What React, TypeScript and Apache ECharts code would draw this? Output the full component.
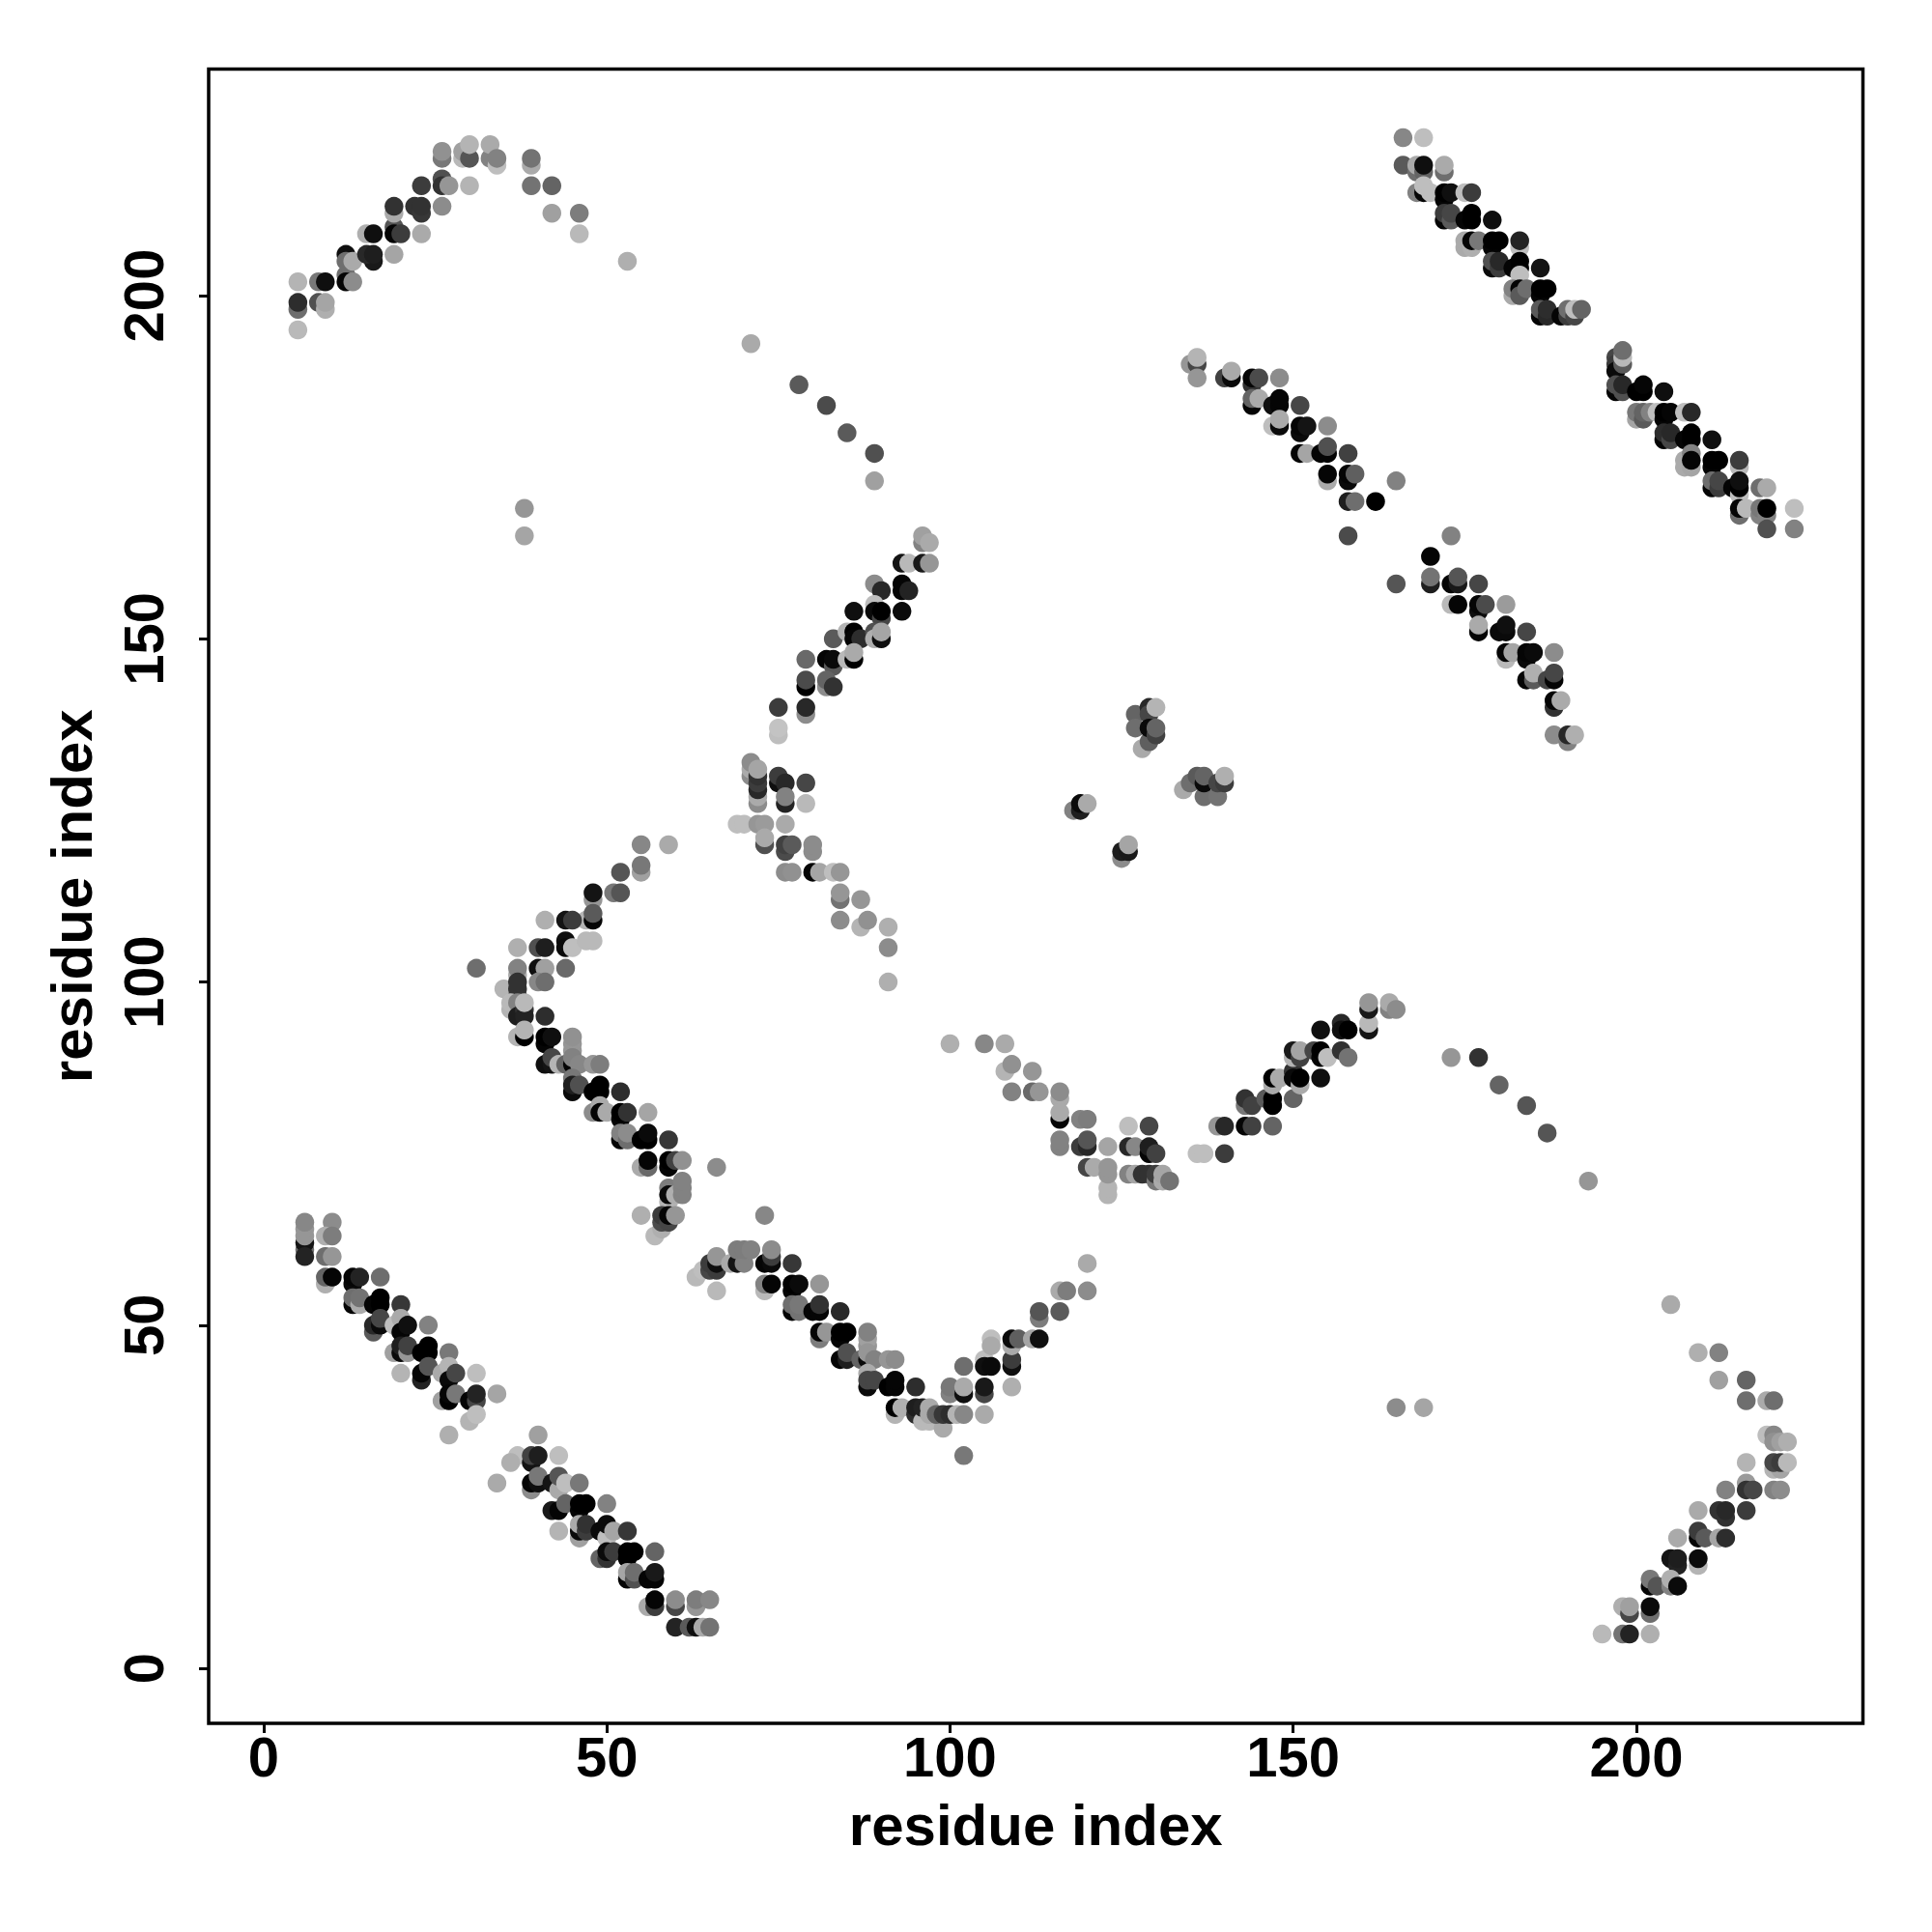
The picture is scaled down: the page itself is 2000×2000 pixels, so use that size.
import React, { useEffect, useRef } from "react";
import * as echarts from "echarts";

type Pt = [number, number, number];

const tickValues = [0, 50, 100, 150, 200];
const xTitle = "residue index";
const yTitle = "residue index";

const strandBottomLeft: Pt[] = [
[6,61,110],[6,62,20],[6,63,150],[6,64,150],[6,65,135],[6,60,35],[10,65,140],[9,63,175],[10,63,125],[9,60,110],[10,60,150],
[9,56,175],[9,57,100],[10,57,5],[13,56,10],[13,57,5],[14,57,35],[17,57,110],[13,53,5],[13,54,110],[14,53,170],[14,54,115],[16,53,5],[17,53,0],[17,54,0],[20,53,55],
[16,49,90],[16,50,40],[17,50,10],[17,51,70],[19,50,190],[20,51,170],[20,49,5],[21,50,15],[24,50,130],
[19,46,160],[20,46,10],[20,47,30],[21,46,150],[21,47,65],[23,46,0],[24,46,0],[24,47,0],[27,46,120],
[20,43,180],[23,42,35],[23,43,5],[24,44,85],[26,43,170],[27,44,180],[27,42,10],[28,43,70],[31,43,190],
[26,39,160],[27,39,0],[27,40,5],[28,40,120],[30,39,5],[31,39,70],[31,40,35],[34,40,165],[30,36,180],[31,37,190],[27,34,175],
];

const strandLower: Pt[] = [
[40,34,160],[37,31,190],[36,30,175],[34,27,170],[39,30,20],[39,31,65],[40,31,30],[43,31,190],
[39,26,140],[39,27,5],[40,27,15],[40,28,120],[42,27,20],[43,26,170],[43,28,85],[44,27,190],[46,27,120],
[42,23,25],[43,23,5],[44,24,100],[46,23,5],[46,24,0],[47,24,0],[50,24,130],
[43,20,180],[46,19,160],[46,20,10],[46,21,170],[47,20,60],[47,21,50],[49,20,10],[50,19,190],[50,21,10],[51,20,165],[53,20,55],
[49,16,100],[50,16,50],[50,17,10],[51,17,60],[53,16,0],[53,17,0],[54,17,0],[57,17,100],
[53,13,5],[53,14,165],[54,13,80],[54,14,110],[56,13,5],[57,13,5],[57,14,25],
[56,9,170],[57,9,60],[57,10,5],[60,9,70],[60,10,140],[63,9,150],[63,10,125],[65,10,135],
[60,6,35],[62,6,90],[63,6,15],[64,6,170],[65,6,115],
];

const strandMiddleLeft: Pt[] = [
[55,120,135],[59,120,170],[55,116,160],[55,117,120],[52,116,85],[51,113,120],[52,113,85],[48,112,150],[48,113,20],
[47,109,180],[48,109,5],[48,110,90],[41,109,175],[44,109,20],[45,109,60],
[44,106,15],[44,105,10],[45,105,190],[47,106,185],[48,106,185],[37,105,175],[40,105,80],[41,105,30],
[37,101,170],[37,102,130],[40,102,15],[41,102,160],[44,102,105],[31,102,110],
[40,100,135],[41,100,110],[35,99,180],[37,98,70],[37,99,50],[37,100,50],[36,96,180],[36,97,185],[37,97,130],[37,95,30],[38,96,50],[38,95,35],[38,97,185],[41,95,45],
[37,92,180],[38,92,0],[38,93,180],[41,91,5],[41,92,0],[42,92,15],[45,90,150],[45,91,150],[45,92,145],
[41,88,15],[42,88,20],[42,89,70],[43,88,180],[44,88,100],[45,88,5],[45,89,130],[46,88,135],[48,88,150],[49,88,125],
[45,86,120],[45,84,10],[45,85,30],[46,85,80],[48,84,0],[49,84,0],[49,85,0],[52,84,45],
[48,81,140],[49,82,170],[49,81,5],[50,81,170],[52,80,5],[52,81,0],[53,81,50],[56,81,165],
[52,77,5],[52,78,130],[53,77,110],[53,78,140],[55,77,0],[56,77,0],[56,78,10],[59,77,55],
[55,73,170],[56,73,105],[56,74,5],[59,73,5],[59,74,0],[60,74,65],[61,74,145],[66,73,140],
[59,70,125],[59,68,180],[59,69,10],[60,69,175],[61,69,130],[61,70,130],[61,71,130],
[55,66,175],[57,63,185],[58,64,175],[58,65,75],[58,66,60],[59,65,70],[59,66,5],[60,66,150],
];

const strandLowerMiddle: Pt[] = [
[73,66,135],[63,57,185],[64,58,190],[65,58,70],[65,59,60],[66,58,60],[66,59,15],[66,60,150],[66,55,185],
[68,59,170],[69,59,20],[70,59,130],[69,61,125],[70,61,125],[71,61,130],[73,59,5],[74,59,10],[74,60,60],[74,61,140],[77,59,55],
[73,55,185],[73,56,130],[74,56,5],[77,55,5],[77,56,0],[78,56,10],[81,56,150],
[77,52,5],[77,53,110],[78,52,115],[78,53,120],[80,52,5],[81,52,5],[81,53,50],[84,52,40],
[81,48,125],[81,49,5],[82,49,150],[84,48,5],[84,49,0],[85,49,0],[88,47,150],[88,48,160],[88,49,130],
[84,45,5],[85,45,30],[85,46,80],[87,45,100],[88,45,10],[88,46,150],[89,45,130],[91,45,150],[92,45,140],
[88,43,170],[88,41,10],[88,42,70],[89,42,70],[91,41,0],[92,41,5],[92,42,5],[95,41,45],
[92,37,180],[92,38,0],[93,38,175],[95,37,45],[95,38,30],[96,36,185],[97,36,185],[96,38,35],[97,37,170],[97,38,170],[99,35,170],[98,37,100],[99,37,55],[100,37,45],[101,37,180],[102,37,135],[105,37,170],
[100,40,130],[100,41,120],[102,40,15],[102,41,170],[102,44,110],[105,40,70],[105,41,25],
[105,45,190],[105,44,15],[106,48,190],[106,47,170],[106,44,10],
[109,41,175],[109,44,15],[109,45,60],[109,47,170],[109,48,10],[110,48,95],[112,48,165],[113,48,15],
[113,51,125],[113,52,85],[116,52,90],[116,55,170],[117,55,125],[120,55,140],[120,59,170],[102,31,120],
];

const strandUpperMiddle: Pt[] = [
[96,164,130],[96,165,160],[97,164,170],[93,161,20],[94,161,185],[96,161,25],[97,161,150],
[89,158,140],[90,157,40],[93,157,5],[93,158,5],[94,157,35],
[86,154,15],[89,155,190],[89,154,10],[90,153,70],[90,154,0],[93,154,10],
[83,150,90],[85,151,180],[86,151,0],[86,150,5],[87,150,45],[89,151,80],[89,150,175],[90,150,15],[90,151,165],
[79,147,105],[82,147,5],[83,146,90],[83,147,10],[85,147,185],[86,147,0],[86,148,170],
[79,143,0],[79,144,75],[82,143,140],[82,144,100],[83,143,50],
[75,140,60],[79,139,140],[79,140,40],[75,136,190],[75,137,195],
[71,130,140],[71,131,170],[71,132,140],[72,126,140],[72,127,170],[72,128,40],[72,129,60],[72,130,50],[72,131,165],
[75,129,15],[75,130,60],[76,129,40],[79,129,70],[76,126,35],[76,127,130],[79,126,185],
[69,123,190],[70,123,190],[72,123,150],[73,123,155],[76,123,170],
[73,120,80],[73,121,170],[76,119,75],[76,120,65],[77,120,90],[80,119,140],[80,120,140],
[76,116,140],[77,116,145],[80,116,5],[81,116,165],[83,116,190],[84,116,150],
[84,112,115],[84,113,150],[87,112,150],[84,109,140],[87,108,180],[88,109,145],[91,108,175],[91,105,140],[91,100,175],
];

const arcTopLeft: Pt[] = [
[5,202,180],[5,198,110],[5,199,45],[5,195,185],[8,199,80],[9,198,175],[9,199,165],[8,202,120],[9,202,15],
[12,203,110],[12,202,5],[13,202,140],[12,206,15],[12,205,110],[13,205,170],
[15,209,175],[16,209,15],[16,205,25],[15,206,40],[16,206,30],[19,206,165],
[19,210,85],[19,209,5],[20,209,60],[23,209,170],
[19,212,170],[19,213,50],[22,213,50],[23,212,55],[23,213,50],[26,213,140],
[23,216,60],[26,217,80],[26,216,50],[27,216,150],[30,216,180],
[26,220,120],[26,221,145],[29,220,185],[29,221,160],[30,220,85],[30,222,180],
[33,220,130],[33,222,170],[34,219,190],[34,220,130],
[39,219,170],[39,220,115],[39,216,115],[42,216,100],[42,212,160],[46,212,125],[46,209,185],[53,205,175],
];

const strayUpper: Pt[] = [
[71,193,170],[78,187,90],[82,184,75],[85,180,90],[89,177,80],[89,173,160],[38,169,150],[38,165,165],
[165,38,140],[169,38,165],[173,89,150],[177,89,50],[180,85,100],[184,82,85],[187,78,85],[193,71,150],
];

const strandTopRight: Pt[] = [
[166,223,135],[169,223,190],[166,219,90],[168,218,110],[168,219,170],[169,218,100],[169,219,15],[172,218,110],[172,219,170],
[168,215,130],[169,215,5],[169,216,190],[170,215,190],[172,214,5],[172,215,0],[173,215,15],[175,215,190],[176,215,60],
[172,211,5],[172,212,60],[173,211,90],[173,212,70],[175,211,5],[176,211,0],[176,212,0],[179,211,15],
[175,207,170],[175,208,170],[176,207,175],[176,208,5],[177,208,120],[179,207,5],[179,208,0],[180,208,0],[183,207,190],[183,208,35],
[179,204,10],[179,205,80],[180,204,60],[180,205,40],[182,204,5],[183,204,0],[183,205,0],[186,204,20],
[183,203,190],[182,200,170],[182,201,130],[183,201,5],[183,200,90],[184,201,110],[186,200,5],[186,201,0],[187,201,0],
[186,197,5],[186,198,90],[187,197,40],[187,198,45],[189,197,5],[190,197,60],[190,198,110],[191,197,70],[191,198,190],[192,198,100],
];

const strandRight: Pt[] = [
[197,191,70],[197,190,60],[197,189,10],[198,190,90],[198,191,185],[198,192,110],[197,186,5],[197,187,80],[198,186,80],[198,187,40],
[200,186,0],[201,186,0],[201,187,5],[204,186,15],
[200,182,165],[200,183,120],[201,182,90],[201,183,100],[202,183,130],[203,183,190],[204,182,5],[204,183,0],[205,183,5],[207,183,190],[208,183,40],
[204,179,5],[204,180,45],[205,179,70],[205,180,40],[207,179,5],[208,179,0],[208,180,0],[211,179,15],
[207,175,170],[207,176,170],[208,175,165],[208,177,130],[208,176,5],[211,175,5],[211,176,0],[212,176,0],[215,175,185],[215,176,60],
[211,172,5],[211,173,110],[212,172,60],[212,173,70],[214,172,5],[215,171,190],[215,172,0],[215,173,15],[218,172,110],[219,172,170],
[215,168,110],[215,169,5],[216,169,185],[218,168,130],[218,169,120],[219,168,130],[219,169,0],[219,166,80],[223,169,190],[223,166,130],
];

const strandCentreRight: Pt[] = [
[135,190,150],[136,190,70],[136,191,180],[136,188,150],[140,188,65],[141,188,10],[141,189,170],[144,187,50],[144,188,5],[145,188,75],[148,188,140],
[144,184,5],[144,185,100],[145,185,170],[147,184,15],[148,184,5],[148,185,5],[151,184,70],
[147,181,190],[148,181,10],[148,182,170],[151,180,10],[151,181,5],[152,181,20],[155,181,140],
[151,177,5],[152,177,165],[154,177,5],[155,177,5],[155,178,80],[158,177,65],
[155,173,170],[155,174,5],[158,173,10],[158,174,5],[159,174,95],[165,173,130],
[158,170,30],[159,170,110],[162,170,0],[158,165,75],[165,158,85],[173,165,130],[170,162,5],
[170,158,30],[170,159,115],[173,158,5],[174,158,25],[174,159,85],[177,158,70],
[173,155,185],[174,155,5],[177,154,15],[177,155,5],[178,155,75],[181,155,155],
[177,151,5],[177,152,170],[180,151,10],[181,151,10],[181,152,15],[184,151,70],
[181,147,185],[181,148,5],[182,148,165],[184,147,10],[184,148,5],[185,148,10],[188,148,140],
[184,144,5],[185,144,90],[185,145,175],[187,144,70],[188,144,5],[188,145,70],
[188,140,50],[188,141,5],[189,141,170],[188,136,140],[190,135,130],[190,136,40],[191,136,175],
];

const clusterCentre: Pt[] = [
[128,134,170],[129,135,95],[127,139,100],[127,137,110],[129,140,40],[129,139,70],[129,137,10],[130,136,65],[130,137,100],[130,140,180],
[118,125,130],[119,125,30],[119,126,10],[120,126,170],
[125,118,140],[125,119,30],[126,119,25],[126,120,165],
[134,128,170],[135,129,110],[136,130,90],[137,127,110],[139,127,115],[137,129,10],[137,130,100],[139,129,70],[140,129,60],[140,130,175],
];

const strandMiddleRight: Pt[] = [
[100,91,175],[105,91,135],[108,91,170],[108,87,180],[109,88,145],[112,87,150],[109,84,130],[112,84,105],[113,84,150],[116,83,170],[116,84,140],
[116,80,5],[116,81,170],[119,80,130],[120,80,125],[116,76,130],[116,77,130],[119,76,60],[120,76,40],[120,77,85],[123,76,165],
[126,79,190],[129,79,70],[126,76,40],[127,76,135],[129,75,5],[129,76,30],[130,75,65],
[120,73,70],[121,73,170],[123,69,180],[123,70,180],[123,72,150],[123,73,150],
[126,72,130],[127,72,165],[128,72,50],[129,72,50],[130,71,120],[130,72,60],[131,71,170],[131,72,165],[132,71,115],
[136,75,190],[137,75,190],[140,75,60],[139,79,150],[140,79,40],[143,79,5],[144,79,65],[147,79,100],
[143,82,120],[143,83,50],[144,82,65],[146,83,90],[147,82,0],[147,83,0],[150,83,100],
[147,85,170],[147,86,0],[148,86,170],[150,87,50],[150,86,10],[151,85,170],[151,86,0],[154,86,15],
[150,89,180],[150,90,25],[151,89,65],[151,90,165],[153,90,70],[154,89,5],[154,90,0],[155,89,190],[157,90,50],[158,89,115],
[154,93,15],[157,94,40],[157,93,15],[158,93,0],[161,93,20],[161,94,185],[161,96,25],[161,97,150],[164,96,130],[164,97,170],[165,96,140],
];

const strandBottomRight: Pt[] = [
[205,53,170],[209,46,175],[212,46,130],[212,42,160],[216,42,100],[216,39,110],[219,39,170],[220,39,110],
[219,34,190],[220,34,135],[220,33,145],[221,33,160],[222,33,175],
[216,30,180],[220,29,180],[221,29,165],[220,30,70],[221,30,60],[222,30,185],
[216,27,155],[216,26,50],[217,26,70],[213,26,130],[220,26,130],[221,26,140],
[209,23,170],[212,23,50],[213,22,50],[213,23,40],[216,23,60],
[209,19,5],[209,20,60],[210,19,90],[212,19,165],[213,19,45],[206,19,170],
[205,16,20],[206,15,35],[206,16,30],[209,15,180],[209,16,10],
[202,12,5],[202,13,120],[203,12,85],[205,12,130],[205,13,175],[206,12,10],
[198,9,175],[199,8,70],[199,9,160],[202,8,110],[202,9,10],
[195,5,185],[198,5,115],[199,5,35],[202,5,175],
];

const allPoints: Pt[] = [
  ...strandBottomLeft, ...strandLower, ...strandMiddleLeft, ...strandLowerMiddle, ...strandUpperMiddle,
  ...arcTopLeft, ...strayUpper, ...strandTopRight, ...strandRight, ...strandCentreRight,
  ...clusterCentre, ...strandMiddleRight, ...strandBottomRight,
];

const FONT = "Liberation Sans";

export default function App() {
  const ref = useRef<HTMLDivElement>(null);
  useEffect(() => {
    const chart = echarts.init(ref.current!, undefined, { renderer: "svg" });
    const axisCommon = {
      type: "value" as const,
      min: -8,
      max: 233,
      splitLine: { show: false },
      axisLine: { show: false, onZero: false },
      axisTick: { show: true, customValues: tickValues, length: 10, lineStyle: { color: "#000", width: 3 } },
      nameLocation: "middle" as const,
      nameTextStyle: { fontFamily: FONT, fontWeight: "bold" as const, fontSize: 60, color: "#000" },
    };
    const labelStyle = { fontFamily: FONT, fontWeight: "bold" as const, fontSize: 58, color: "#000", customValues: tickValues, formatter: (v: number) => String(v) };
    chart.setOption({
      animation: false,
      backgroundColor: "#fff",
      grid: { left: 216, top: 71.5, width: 1712.5, height: 1712.5, show: true, borderColor: "#000", borderWidth: 3.5, backgroundColor: "transparent" },
      xAxis: { ...axisCommon, name: xTitle, nameGap: 75.5, axisLabel: { ...labelStyle, margin: 5 } },
      yAxis: { ...axisCommon, name: yTitle, nameGap: 112, axisLabel: { ...labelStyle, rotate: 90, margin: 38.5 } },
      series: [
        {
          type: "scatter",
          silent: true,
          symbol: "circle",
          symbolSize: 19.5,
          data: allPoints,
          itemStyle: {
            opacity: 1,
            color: (p: any) => {
              const g = p.data[2];
              return `rgb(${g},${g},${g})`;
            },
          },
        },
      ],
    });
    return () => chart.dispose();
  }, []);
  return <div ref={ref} style={{ position: "absolute", left: 0, top: 0, width: 2000, height: 2000 }} />;
}
